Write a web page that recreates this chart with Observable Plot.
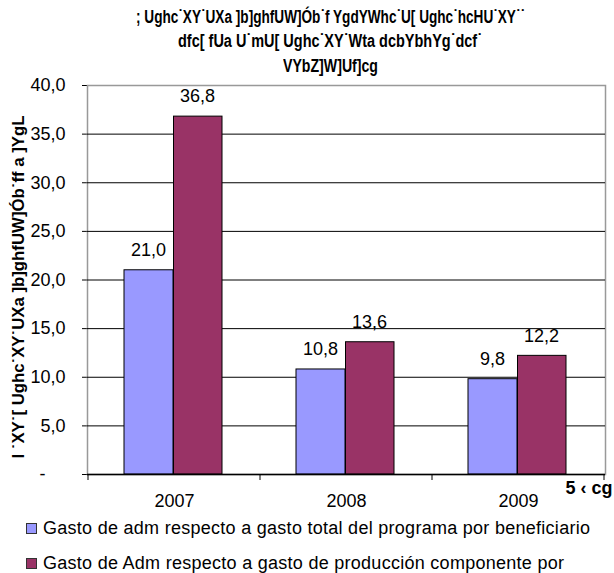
<!DOCTYPE html>
<html><head><meta charset="utf-8">
<script src="https://cdn.jsdelivr.net/npm/d3@7"></script>
<script src="https://cdn.jsdelivr.net/npm/@observablehq/plot@0.6"></script>
<style>
html,body{margin:0;padding:0;background:#fff;}
#wrap{position:relative;width:614px;height:573px;overflow:hidden;font-family:Arial,"Liberation Sans",sans-serif;color:#000;}
#chart{position:absolute;left:0;top:72px;}
.tl{position:absolute;font-weight:bold;font-size:18px;line-height:20px;white-space:pre;transform-origin:0 50%;}
.leg{position:absolute;left:26px;font-size:18px;line-height:18px;white-space:nowrap;}
.legtxt{position:absolute;left:17px;top:0;white-space:pre;}
.sw{position:absolute;left:0;top:4px;width:11px;height:11px;border:1px solid #333;box-sizing:border-box;}
</style>
</head><body>
<div id="wrap">
  <div id="title"></div>
  <div id="chart"></div>
  <div id="legend"></div>
</div>
<script>
// ---- data ----
const titleLines = [
  "; Ughc˙XY˙UXa ]b]ghfUW]Ób˙f YgdYWhc˙U[ Ughc˙hcHU˙XY˙˙",
  "dfc[ fUa U˙mU[ Ughc˙XY˙Wta dcbYbhYg˙dcf˙",
  "VYbZ]W]Uf]cg"
];
const yLabel = "I ˙XY˙[ Ughc˙XY˙UXa ]b]ghfUW]Ób˙ff a ]YgL";
const xLabel = "5 ‹ cg";
const years = ["2007", "2008", "2009"];
const seriesNames = [
  "Gasto de adm respecto a gasto total del programa por beneficiario",
  "Gasto de Adm respecto a gasto de producción componente por"
];
const seriesColors = ["#9999FF", "#993366"];
const gastoTotal = [21.0, 10.8, 9.8];
const gastoProduccion = [36.8, 13.6, 12.2];
const yTicks = [0, 5, 10, 15, 20, 25, 30, 35, 40];
const gridTicks = [5, 10, 15, 20, 25, 30, 35];

function fitSpacing(span, left, right) {
  const n = span.textContent.length;
  const w = span.getBoundingClientRect().width;
  span.style.letterSpacing = (((right - left) - w) / Math.max(1, n - 1)) + "px";
  span.style.left = left + "px";
}
function fitScale(span, left, right) {
  const w = span.getBoundingClientRect().width;
  span.style.transform = `scaleX(${(right - left) / w})`;
  span.style.left = left + "px";
}

// ---- title ----
const titleBox = [[136, 525, 7], [178, 482, 31], [283, 378, 56]];
const titleEl = document.getElementById("title");
titleLines.forEach((t, i) => {
  const s = document.createElement("span");
  s.className = "tl";
  s.textContent = t;
  s.style.top = titleBox[i][2] + "px";
  titleEl.appendChild(s);
  fitScale(s, titleBox[i][0], titleBox[i][1]);
});

// ---- chart ----
const rowsA = years.map((y, i) => ({year: y, value: gastoTotal[i]}));
const rowsB = years.map((y, i) => ({year: y, value: gastoProduccion[i]}));
const fmt = v => v.toFixed(1).replace(".", ",");
const NB = "\u00a0";

const boundaryTicks = (index, scales) => {
  const x = scales.x, y = scales.y;
  const bw = x.bandwidth();
  const xs = x.domain().map(d => x(d));
  xs.push(xs[xs.length - 1] + bw);
  const y0 = y(0);
  const g = d3.create("svg:g").attr("stroke", "#000");
  g.selectAll("line").data(xs).join("line")
    .attr("x1", d => d).attr("x2", d => d)
    .attr("y1", y0).attr("y2", y0 + 6);
  return g.node();
};

const chart = Plot.plot({
  width: 614,
  height: 445,
  marginLeft: 87,
  marginRight: 9,
  marginTop: 13,
  marginBottom: 43,
  style: {fontSize: "18px", fontFamily: "Arial, 'Liberation Sans', sans-serif", background: "transparent", overflow: "visible"},
  x: {domain: years, padding: 0, label: null, tickSize: 0, tickPadding: 20},
  y: {domain: [0, 40], ticks: yTicks, tickSize: 5, tickPadding: 17, line: true, label: null,
      tickFormat: d => d === 0 ? "-" + NB.repeat(4) : fmt(d)},
  marks: [
    Plot.frame({stroke: "#999", strokeWidth: 1.5}),
    Plot.ruleY(gridTicks, {stroke: "#000", strokeWidth: 1}),
    Plot.barY(rowsA, {x: "year", y: "value", fill: seriesColors[0], stroke: "#000", strokeWidth: 1, insetLeft: 36, insetRight: 87}),
    Plot.barY(rowsB, {x: "year", y: "value", fill: seriesColors[1], stroke: "#000", strokeWidth: 1, insetLeft: 85.5, insetRight: 38}),
    Plot.text(rowsA, {x: "year", y: "value", text: d => fmt(d.value), dx: -26, dy: -20, fill: "#000"}),
    Plot.text(rowsB, {x: "year", y: "value", text: d => fmt(d.value), dx: 23, dy: -20, fill: "#000"}),
    Plot.ruleY([0], {stroke: "#000", strokeWidth: 1.5}),
    boundaryTicks,
    Plot.text([yLabel], {frameAnchor: "left", textAnchor: "middle", rotate: -90, dx: -69, dy: 7, fontWeight: "bold", fontSize: 16, fill: "#000"}),
    Plot.text([xLabel], {frameAnchor: "bottom-right", textAnchor: "start", dx: -40, dy: 19, fontWeight: "bold", fontSize: 18, fill: "#000"})
  ]
});
document.getElementById("chart").appendChild(chart);
for (const t of chart.querySelectorAll("text")) {
  if (t.textContent === yLabel) {
    t.setAttribute("textLength", 343);
    t.setAttribute("lengthAdjust", "spacingAndGlyphs");
  }
}

// ---- legend ----
const legTops = [519, 554];
const legRight = [590, 564];
const legEl = document.getElementById("legend");
seriesNames.forEach((s, i) => {
  const row = document.createElement("div");
  row.className = "leg";
  row.style.top = legTops[i] + "px";
  const sw = document.createElement("span");
  sw.className = "sw";
  sw.style.background = seriesColors[i];
  const tx = document.createElement("span");
  tx.className = "legtxt";
  tx.textContent = s;
  row.appendChild(sw);
  row.appendChild(tx);
  legEl.appendChild(row);
  fitSpacing(tx, 17, legRight[i] - 26);
});
</script>
</body></html>
